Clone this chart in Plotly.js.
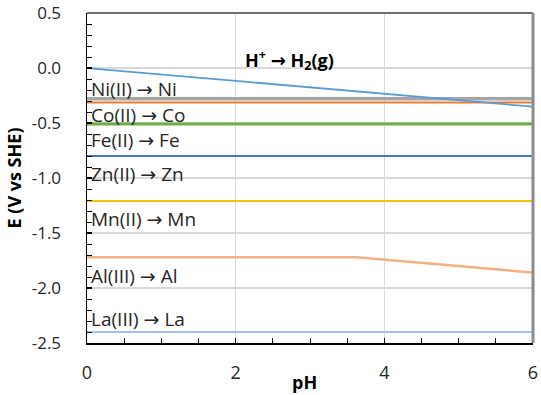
<!DOCTYPE html>
<html>
<head>
<meta charset="utf-8">
<script src="https://cdn.plot.ly/plotly-3.0.1.min.js"></script>
<style>html,body{margin:0;padding:0;background:#fff;}#chart{width:541px;height:395px;}</style>
</head>
<body>
<div id="chart"></div>
<script>
// Data
const seriesNames = ["Ni(II) → Ni", "Co(II) → Co", "Fe(II) → Fe", "Zn(II) → Zn", "Mn(II) → Mn", "Al(III) → Al", "La(III) → La", "H+ → H2(g)"];
const niX = [0, 6];      const niY = [-0.28, -0.28];
const coX = [0, 6];      const coY = [-0.314, -0.314];
const feX = [0, 6];      const feY = [-0.51, -0.51];
const znX = [0, 6];      const znY = [-0.80, -0.80];
const mnX = [0, 6];      const mnY = [-1.21, -1.21];
const alX = [0, 3.63, 6]; const alY = [-1.72, -1.72, -1.86];
const laX = [0, 6];      const laY = [-2.40, -2.40];
const hX = [0, 6];       const hY = [0, -0.352];

const labelTexts = ["Ni(II) → Ni", "Co(II) → Co", "Fe(II) → Fe", "Zn(II) → Zn", "Mn(II) → Mn", "Al(III) → Al", "La(III) → La"];
const labelY = [-0.19, -0.425, -0.65, -0.96, -1.37, -1.89, -2.28];
const hLabel = "H<sup>+</sup> → H<sub>2</sub>(g)";
const hLabelX = 2.73, hLabelY = 0.07;

const xTickVals = [0, 2, 4, 6];
const yTickVals = [0.5, 0, -0.5, -1, -1.5, -2, -2.5];
const yTickText = ["0.5", "0.0", "-0.5", "-1.0", "-1.5", "-2.0", "-2.5"];

const FONT = "'Open Sans', 'DejaVu Sans', sans-serif";

function line(x, y, color, width, name) {
  return {x: x, y: y, type: 'scatter', mode: 'lines', name: name,
          line: {color: color, width: width}, hoverinfo: 'skip', showlegend: false};
}

const traces = [
  line(niX, niY, '#A5A5A5', 3.5, seriesNames[0]),
  line(coX, coY, '#ED7D31', 2, seriesNames[1]),
  line(feX, feY, '#70AD47', 3, seriesNames[2]),
  line(znX, znY, '#4472C4', 2, seriesNames[3]),
  line(mnX, mnY, '#FFC000', 2, seriesNames[4]),
  line(alX, alY, '#F4B183', 2.5, seriesNames[5]),
  line(laX, laY, '#9DC3E6', 2, seriesNames[6]),
  line(hX, hY, '#5B9BD5', 1.75, seriesNames[7])
];

const annotations = labelTexts.map((t, i) => ({
  x: 0.03, y: labelY[i], xref: 'x', yref: 'y', text: t, showarrow: false,
  xanchor: 'left', yanchor: 'middle', font: {family: FONT, size: 19, color: '#262626'}
}));
annotations.push({x: hLabelX, y: hLabelY, xref: 'x', yref: 'y', text: '<b>' + hLabel + '</b>',
  showarrow: false, xanchor: 'center', yanchor: 'middle',
  font: {family: FONT, size: 18, color: '#000'}});
annotations.push({x: 0.487, y: -0.118, xref: 'paper', yref: 'paper', text: '<b>pH</b>',
  showarrow: false, xanchor: 'center', yanchor: 'middle',
  font: {family: FONT, size: 18, color: '#000'}});

const layout = {
  width: 541, height: 395,
  margin: {l: 87, r: 8, t: 13, b: 52, pad: 0},
  paper_bgcolor: '#fff', plot_bgcolor: '#fff',
  font: {family: FONT, size: 17, color: '#262626'},
  showlegend: false,
  xaxis: {
    range: [0, 6], tickvals: xTickVals, ticks: 'inside', ticklen: 5, tickwidth: 1.5, tickcolor: '#000',
    showline: true, linecolor: '#000', linewidth: 1.5, mirror: false,
    showgrid: true, gridcolor: '#D9D9D9', gridwidth: 1.5, zeroline: false,
    ticklabelstandoff: 13, ticklabeloverflow: 'allow',
    tickfont: {family: FONT, size: 18, color: '#262626'},
    minor: {dtick: 0.5, ticks: 'inside', ticklen: 5, tickwidth: 1, tickcolor: '#000', showgrid: false}
  },
  yaxis: {
    range: [-2.5, 0.5], tickvals: yTickVals, ticktext: yTickText, ticks: 'inside', ticklen: 5, tickwidth: 1.5, tickcolor: '#000',
    showline: true, linecolor: '#000', linewidth: 1.5, mirror: false,
    showgrid: true, gridcolor: '#D9D9D9', gridwidth: 1.5, zeroline: false,
    ticklabelstandoff: 21, ticklabeloverflow: 'allow',
    tickfont: {family: FONT, size: 17, color: '#262626'},
    title: {text: '<b>E (V vs SHE)</b>', font: {family: FONT, size: 18, color: '#000'}, standoff: 5},
    minor: {dtick: 0.1, ticks: 'inside', ticklen: 5, tickwidth: 1, tickcolor: '#000', showgrid: false}
  },
  shapes: [
    {type: 'line', xref: 'paper', yref: 'paper', x0: 0, x1: 1, y0: 1, y1: 1, line: {color: '#404040', width: 1.5}},
    {type: 'line', xref: 'paper', yref: 'paper', x0: 1, x1: 1, y0: 0, y1: 1, line: {color: '#8C8C8C', width: 3}}
  ],
  annotations: annotations
};

Plotly.newPlot('chart', traces, layout, {staticPlot: true, displayModeBar: false});
</script>
</body>
</html>
